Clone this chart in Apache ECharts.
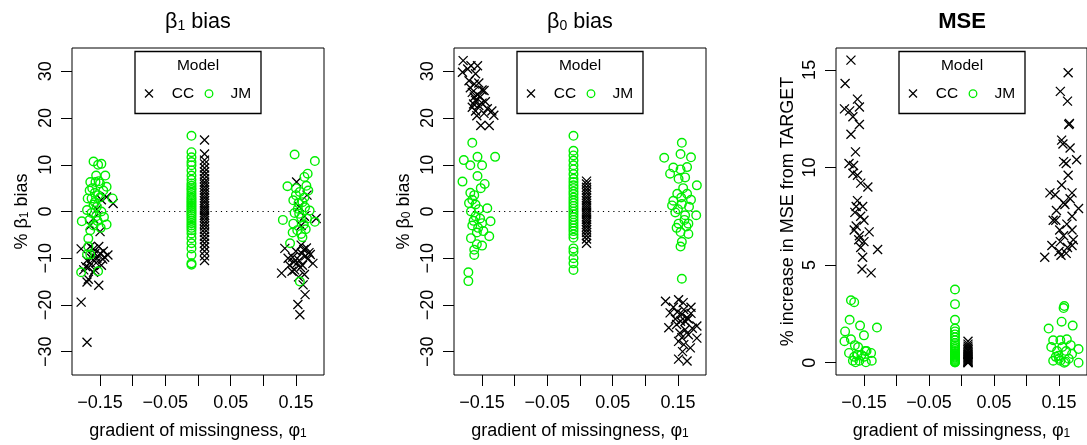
<!DOCTYPE html>
<html><head><meta charset="utf-8">
<script src="https://cdn.jsdelivr.net/npm/echarts@6/dist/echarts.min.js"></script>
<style>html,body{margin:0;padding:0;background:#fff}#c{width:1087px;height:445px}</style>
</head><body><div id="c"></div>
<script>
// ---------------- DATA ----------------
const xTicks = [-0.15, -0.10, -0.05, 0, 0.05, 0.10, 0.15];
const xTickLabels = [-0.15, -0.05, 0.05, 0.15];
const biasTicks = [-30, -20, -10, 0, 10, 20, 30];
const mseTicks = [0, 5, 10, 15];
const xMidCC = 0.01, xMidJM = -0.01;   // x of the phi1 = 0 groups
const refLineX = [-0.18, 0.18];         // dotted zero reference
const seriesNames = ['CC', 'JM'];

// Panel 1: beta1 bias
const b1CCside = [[-0.179,-19.4],[-0.170,-28.0],[-0.170,-15.1],[-0.152,-15.8],[-0.140,3.1],[-0.130,1.7],[-0.138,-9.3],[-0.179,-8.0],[-0.150,-4.3],[-0.165,-3.0],[-0.160,-1.5],[-0.155,0.5],[-0.148,2.5],[-0.170,-10.5],[-0.168,-12.0],[-0.165,-11.0],[-0.162,-9.5],[-0.160,-8.0],[-0.158,-12.5],[-0.155,-10.0],[-0.152,-7.5],[-0.150,-9.0],[-0.148,-11.5],[-0.145,-8.5],[-0.160,-13.0],[-0.165,-7.5],[-0.172,-11.8],[-0.156,-11.0],[-0.163,-10.0],[-0.146,-10.2],[-0.158,-9.0],[-0.175,-12.5],[-0.143,-9.8],[-0.168,-14.5],
  [0.151,6.3],[0.181,-1.5],[0.133,-7.9],[0.128,-13.2],[0.144,-12.8],[0.159,-9.0],[0.166,-7.8],[0.176,-11.1],[0.161,-15.7],[0.164,-17.8],[0.153,-19.9],[0.156,-22.1],[0.148,-12.5],[0.138,-10.0],[0.150,-8.5],[0.155,-10.5],[0.160,-11.5],[0.165,-9.5],[0.170,-8.8],[0.158,-7.2],[0.145,-9.8],[0.152,-11.0],[0.162,-8.2],[0.168,-10.2],[0.157,-12.0],[0.140,-11.5],[0.172,-9.2],[0.163,-13.5],[0.154,-14.0],[0.147,-10.8],[0.158,-3.0],[0.163,-1.0],[0.155,1.0],[0.167,3.5]];
const b1CCmid = [15.3,12.3,11.0,10.2,9.3,8.5,7.8,7.0,6.3,5.8,5.2,4.6,4.0,3.4,2.9,2.3,1.8,1.2,0.7,0.2,-0.3,-0.8,-1.3,-1.9,-2.5,-3.1,-3.8,-4.5,-5.3,-6.0,-6.8,-7.6,-8.5,-9.5,-10.5];
const b1JMside = [[-0.160,10.7],[-0.148,10.2],[-0.153,10.0],[-0.156,7.7],[-0.142,7.7],[-0.165,6.3],[-0.157,6.3],[-0.150,6.0],[-0.140,5.3],[-0.169,2.8],[-0.163,2.8],[-0.131,2.8],[-0.170,0.3],[-0.163,-0.3],[-0.158,2.0],[-0.153,3.5],[-0.178,-2.1],[-0.166,-1.8],[-0.144,-1.2],[-0.140,-2.8],[-0.160,-3.0],[-0.165,-4.0],[-0.168,-7.5],[-0.170,-9.2],[-0.165,-9.2],[-0.179,-13.0],[-0.153,-12.8],[-0.158,4.0],[-0.155,1.0],[-0.150,3.0],[-0.162,5.0],[-0.148,0.0],[-0.156,-1.0],[-0.152,6.5],[-0.145,4.5],[-0.160,1.5],[-0.154,-2.0],[-0.166,4.5],[-0.149,-3.5],[-0.168,-5.8],
  [0.148,12.2],[0.179,10.8],[0.168,8.1],[0.163,7.4],[0.137,5.4],[0.166,5.5],[0.156,4.2],[0.146,2.4],[0.169,4.5],[0.153,0.6],[0.164,0.9],[0.130,-1.8],[0.179,-2.2],[0.146,-2.6],[0.158,-1.3],[0.141,-6.8],[0.156,-15.0],[0.150,3.5],[0.160,2.0],[0.155,-0.5],[0.162,-2.8],[0.152,-4.0],[0.167,-1.5],[0.158,-4.8],[0.148,-0.3],[0.163,3.0],[0.171,0.2],[0.154,1.8],[0.160,-5.5],[0.150,5.0],[0.145,-4.5],[0.165,-3.8]];
const b1JMmid = [16.2,12.7,11.6,10.6,9.9,8.8,7.7,6.8,6.0,5.5,5.0,4.6,4.0,3.5,3.0,2.6,2.2,1.8,1.4,1.0,0.6,0.2,-0.2,-0.6,-1.0,-1.5,-2.0,-2.5,-3.0,-3.5,-4.0,-4.7,-5.7,-6.8,-7.9,-9.3,-11.1,-11.4];

// Panel 2: beta0 bias
const b0CCside = [[-0.179,32.3],[-0.180,29.8],[-0.167,31.2],[-0.157,31.2],[-0.170,28.0],[-0.162,27.3],[-0.147,25.9],[-0.165,25.5],[-0.160,23.8],[-0.153,24.5],[-0.155,22.7],[-0.165,22.3],[-0.142,22.0],[-0.132,20.6],[-0.152,18.4],[-0.139,18.4],[-0.160,21.5],[-0.157,25.0],[-0.147,21.0],[-0.163,23.0],[-0.150,23.2],[-0.172,30.5],[-0.160,29.5],[-0.168,26.5],[-0.155,27.5],[-0.158,20.5],[-0.150,26.0],[-0.162,24.5],[-0.145,23.5],[-0.135,21.5],
  [0.131,-19.2],[0.151,-18.9],[0.170,-20.5],[0.138,-21.7],[0.156,-22.0],[0.179,-24.5],[0.136,-24.9],[0.161,-23.5],[0.148,-24.2],[0.166,-26.4],[0.179,-27.1],[0.151,-27.8],[0.159,-28.5],[0.169,-29.2],[0.151,-31.6],[0.164,-32.0],[0.156,-27.0],[0.159,-21.0],[0.146,-23.0],[0.164,-22.8],[0.154,-23.5],[0.172,-25.0],[0.143,-20.5],[0.161,-25.3],[0.153,-26.0],[0.158,-19.5],[0.149,-21.5],[0.166,-23.0],[0.157,-30.0],[0.170,-21.8]];
const b0CCmid = [6.5,5.9,5.2,4.6,4.0,3.4,2.9,2.3,1.8,1.3,0.8,0.3,-0.2,-0.7,-1.2,-1.7,-2.2,-2.8,-3.3,-3.9,-4.5,-5.2,-5.9,-6.8];
const b0JMside = [[-0.165,14.7],[-0.178,11.0],[-0.157,11.7],[-0.130,11.7],[-0.168,9.9],[-0.150,9.9],[-0.180,6.4],[-0.157,7.6],[-0.146,5.9],[-0.152,5.0],[-0.168,4.0],[-0.165,2.5],[-0.142,0.7],[-0.167,0.0],[-0.160,1.5],[-0.137,-2.1],[-0.163,-2.0],[-0.156,-3.5],[-0.167,-5.7],[-0.139,-5.3],[-0.158,-7.0],[-0.150,-7.3],[-0.162,-8.2],[-0.162,-9.3],[-0.171,-13.0],[-0.171,-14.9],[-0.160,-1.0],[-0.155,0.5],[-0.165,-3.0],[-0.158,-4.5],[-0.150,-2.5],[-0.162,3.5],[-0.170,1.8],[-0.153,-1.5],[-0.148,-4.2],
  [0.156,14.7],[0.154,12.3],[0.129,11.5],[0.170,11.6],[0.143,9.4],[0.138,8.1],[0.164,9.5],[0.154,9.0],[0.179,5.6],[0.151,7.0],[0.161,7.3],[0.149,3.8],[0.164,3.8],[0.141,1.3],[0.156,1.6],[0.167,1.0],[0.178,-0.8],[0.146,-0.2],[0.161,-0.8],[0.151,-2.6],[0.166,-2.6],[0.154,-4.4],[0.166,-4.8],[0.156,-6.5],[0.154,-7.5],[0.156,-14.4],[0.143,2.3],[0.158,5.0],[0.150,0.5],[0.160,-1.8],[0.170,2.5],[0.148,-3.5],[0.163,-3.2],[0.155,3.0]];
const b0JMmid = [16.2,13.0,12.0,10.9,9.9,9.0,8.0,7.0,6.3,5.6,5.0,4.3,3.7,3.0,2.4,1.8,1.2,0.6,0.0,-0.6,-1.2,-1.8,-2.4,-3.0,-3.6,-4.2,-4.9,-5.6,-7.9,-8.6,-10.0,-11.1,-12.5];

// Panel 3: MSE
const mseCCside = [[-0.170,15.5],[-0.179,14.3],[-0.160,13.5],[-0.180,13.0],[-0.172,12.9],[-0.157,13.1],[-0.167,12.6],[-0.157,12.2],[-0.170,11.7],[-0.163,10.8],[-0.173,10.2],[-0.166,10.1],[-0.167,9.7],[-0.160,9.6],[-0.155,9.2],[-0.144,9.0],[-0.160,8.3],[-0.162,8.0],[-0.152,8.0],[-0.164,7.7],[-0.155,7.5],[-0.150,7.3],[-0.165,6.8],[-0.142,6.7],[-0.157,6.5],[-0.150,6.2],[-0.129,5.8],[-0.155,5.9],[-0.152,5.4],[-0.153,4.8],[-0.139,4.6],[-0.158,6.3],[-0.162,7.0],
  [0.164,14.85],[0.152,13.9],[0.163,13.4],[0.165,12.2],[0.154,11.4],[0.156,11.2],[0.167,11.0],[0.177,10.4],[0.157,10.3],[0.161,10.2],[0.164,9.6],[0.154,9.1],[0.136,8.7],[0.144,8.6],[0.170,8.7],[0.157,8.2],[0.159,8.1],[0.180,7.9],[0.146,7.8],[0.170,7.5],[0.141,7.3],[0.162,7.1],[0.151,6.8],[0.170,6.8],[0.157,6.5],[0.139,6.0],[0.152,6.2],[0.170,6.0],[0.163,5.9],[0.128,5.4],[0.150,5.7],[0.161,5.6],[0.153,5.5],[0.172,6.3],[0.167,8.4],[0.145,7.3],[0.166,12.25]];
const mseCCmid = [1.1,0.95,0.85,0.75,0.65,0.58,0.5,0.44,0.38,0.32,0.27,0.22,0.17,0.12,0.08,0.05,0.02,0.0];
const mseJMside = [[-0.170,3.2],[-0.165,3.1],[-0.172,2.2],[-0.130,1.8],[-0.156,1.9],[-0.179,1.6],[-0.150,1.4],[-0.180,1.1],[-0.170,1.2],[-0.164,0.9],[-0.146,0.6],[-0.173,0.5],[-0.139,0.5],[-0.160,0.4],[-0.150,0.3],[-0.167,0.1],[-0.157,0.1],[-0.138,0.1],[-0.165,0.3],[-0.148,0.6],[-0.159,0.8],[-0.163,0.02],[-0.147,0.02],[-0.154,0.4],
  [0.157,2.8],[0.158,2.9],[0.154,2.1],[0.171,1.9],[0.134,1.75],[0.180,0.7],[0.141,1.15],[0.152,1.15],[0.162,1.2],[0.138,0.8],[0.147,0.6],[0.161,0.6],[0.141,0.1],[0.152,0.1],[0.165,0.2],[0.180,0.0],[0.149,0.35],[0.158,0.0],[0.170,0.45],[0.155,0.8],[0.145,0.3],[0.168,0.9],[0.160,0.05],[0.150,0.2]];
const mseJMmid = [3.75,3.0,2.2,1.75,1.6,1.45,1.3,1.15,1.0,0.9,0.8,0.7,0.6,0.5,0.45,0.4,0.35,0.3,0.25,0.2,0.15,0.1,0.06,0.03,0.01];

// ---------------- STYLE / LAYOUT ----------------
const FONT = '"Liberation Sans", Arial, Helvetica, sans-serif';
const GREEN = '#00ee00';
const CROSS = 'path://M0,0L10,10M10,0L0,10';
const gridLefts = [72, 454, 836];
const GTOP = 48, GW = 252, GH = 329;

const panels = [
  {cc: b1CCside, ccMid: b1CCmid, jm: b1JMside, jmMid: b1JMmid, yMin: -35, yMax: 35, yTicks: biasTicks, ref: true,
   title: '{m|β}{s|1}{m| bias}', yName: '{m|% β}{s|1}{m| bias}', nameGap: 41},
  {cc: b0CCside, ccMid: b0CCmid, jm: b0JMside, jmMid: b0JMmid, yMin: -35, yMax: 35, yTicks: biasTicks, ref: true,
   title: '{m|β}{s|0}{m| bias}', yName: '{m|% β}{s|0}{m| bias}', nameGap: 41},
  {cc: mseCCside, ccMid: mseCCmid, jm: mseJMside, jmMid: mseJMmid, yMin: -0.63, yMax: 16.12, yTicks: mseTicks, ref: false,
   title: '{b|MSE}', yName: '{m|% increase in MSE from TARGET}', nameGap: 39}
];

const fmtX = v => (v < 0 ? '\u2212' : '') + Math.abs(v).toFixed(2);
const fmtY = v => (v < 0 ? '\u2212' : '') + Math.abs(v);

const nameRich = {
  m: {fontSize: 18, fontFamily: FONT, color: '#000', lineHeight: 22, verticalAlign: 'bottom'},
  s: {fontSize: 12, fontFamily: FONT, color: '#000', lineHeight: 12, verticalAlign: 'bottom'}
};
const titleRich = {
  m: {fontSize: 21.6, fontFamily: FONT, color: '#000', lineHeight: 26, verticalAlign: 'bottom'},
  s: {fontSize: 14, fontFamily: FONT, color: '#000', lineHeight: 14, verticalAlign: 'bottom'},
  b: {fontSize: 22, fontWeight: 'bold', fontFamily: FONT, color: '#000', lineHeight: 26, verticalAlign: 'bottom'}
};

const grid = [], xAxis = [], yAxis = [], series = [], graphic = [];
panels.forEach((p, i) => {
  grid.push({left: gridLefts[i], top: GTOP, width: GW, height: GH, show: true,
             borderColor: '#000', borderWidth: 1, backgroundColor: 'transparent'});
  xAxis.push({
    gridIndex: i, type: 'value', min: -0.193, max: 0.193, position: 'bottom',
    axisLine: {show: false, onZero: false}, splitLine: {show: false},
    axisTick: {show: true, length: 11, customValues: xTicks, lineStyle: {color: '#000', width: 1}},
    axisLabel: {customValues: xTickLabels, formatter: fmtX, fontSize: 18, fontFamily: FONT, color: '#000', margin: 19},
    name: '{m|gradient of missingness, φ}{s|1}', nameLocation: 'middle', nameGap: 43,
    nameTextStyle: {rich: nameRich}
  });
  yAxis.push({
    gridIndex: i, type: 'value', min: p.yMin, max: p.yMax, position: 'left',
    axisLine: {show: false, onZero: false}, splitLine: {show: false},
    axisTick: {show: true, length: 11, customValues: p.yTicks, lineStyle: {color: '#000', width: 1}},
    axisLabel: {customValues: p.yTicks, formatter: fmtY, rotate: 90, fontSize: 18, fontFamily: FONT, color: '#000', margin: 17},
    name: p.yName, nameLocation: 'middle', nameGap: p.nameGap, nameRotate: 90,
    nameTextStyle: {rich: nameRich}
  });
  if (p.ref) {
    series.push({type: 'line', xAxisIndex: i, yAxisIndex: i, silent: true, symbol: 'none',
      data: refLineX.map(x => [x, 0]), lineStyle: {color: '#000', width: 1.2, type: [1.2, 4]}, z: 1});
  }
  series.push({
    name: seriesNames[0], type: 'scatter', xAxisIndex: i, yAxisIndex: i, silent: true,
    symbol: CROSS, symbolSize: 9,
    data: p.cc.concat(p.ccMid.map(v => [xMidCC, v])),
    itemStyle: {color: 'rgba(0,0,0,0)', borderColor: '#000', borderWidth: 1.3, opacity: 1}, z: 2
  });
  series.push({
    name: seriesNames[1], type: 'scatter', xAxisIndex: i, yAxisIndex: i, silent: true,
    symbol: 'circle', symbolSize: 8.6,
    data: p.jm.concat(p.jmMid.map(v => [xMidJM, v])),
    itemStyle: {color: 'rgba(0,0,0,0)', borderColor: GREEN, borderWidth: 1.4, opacity: 1}, z: 3
  });

  const cx = gridLefts[i] + GW / 2;
  graphic.push({type: 'text', x: cx, y: 7, z: 100,
    style: {text: p.title, rich: titleRich, align: 'center', verticalAlign: 'top'}});
  graphic.push({type: 'group', z: 100, children: [
    {type: 'rect', shape: {x: cx - 63, y: 51.5, width: 126, height: 62},
     style: {fill: '#fff', stroke: '#000', lineWidth: 1.3}, z: 100},
    {type: 'text', x: cx, y: 65.6, z: 101,
     style: {text: 'Model', font: '15.5px ' + FONT, fill: '#000', align: 'center', verticalAlign: 'middle'}},
    {type: 'line', shape: {x1: cx - 53, y1: 89.5, x2: cx - 45, y2: 97.5}, style: {stroke: '#000', lineWidth: 1.3}, z: 101},
    {type: 'line', shape: {x1: cx - 53, y1: 97.5, x2: cx - 45, y2: 89.5}, style: {stroke: '#000', lineWidth: 1.3}, z: 101},
    {type: 'text', x: cx - 26.3, y: 94, z: 101,
     style: {text: seriesNames[0], font: '15.5px ' + FONT, fill: '#000', align: 'left', verticalAlign: 'middle'}},
    {type: 'circle', shape: {cx: cx + 11, cy: 93.7, r: 3.8}, style: {fill: 'none', stroke: GREEN, lineWidth: 1.3}, z: 101},
    {type: 'text', x: cx + 32.5, y: 94, z: 101,
     style: {text: seriesNames[1], font: '15.5px ' + FONT, fill: '#000', align: 'left', verticalAlign: 'middle'}}
  ]});
});

const chart = echarts.init(document.getElementById('c'), null, {renderer: 'canvas'});
chart.setOption({animation: false, backgroundColor: '#fff', grid, xAxis, yAxis, series, graphic});
</script></body></html>
